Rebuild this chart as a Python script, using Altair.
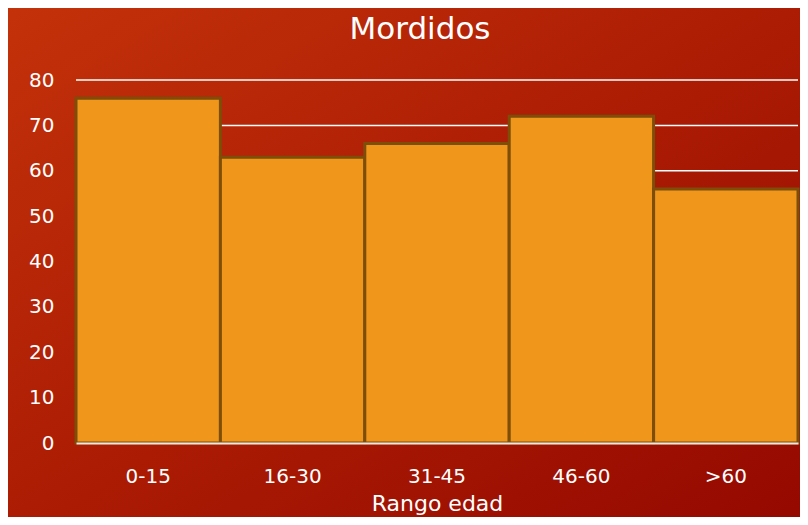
import altair as alt
import pandas as pd

categories = ["0-15", "16-30", "31-45", "46-60", ">60"]
values = [76, 63, 66, 72, 56]
grid_values = [10, 20, 30, 40, 50, 60, 70, 80]
title_text = ["Mordidos"]

W, H = 722, 363
PAD = {"left": 68, "top": 72, "right": 2, "bottom": 74}
FONT = "DejaVu Sans"

df = pd.DataFrame({"rango": categories, "mordidos": values})
gdf = pd.DataFrame({"v": grid_values})
bgdf = pd.DataFrame({"k": [0]})
tdf = pd.DataFrame({"t": title_text})

xenc = alt.X(
    "rango:N", sort=categories,
    scale=alt.Scale(paddingInner=0, paddingOuter=0),
    axis=alt.Axis(title="Rango edad", labelAngle=0, labelFontSize=20, labelColor="white",
                  labelFont=FONT, labelPadding=23, ticks=False, domain=True,
                  domainColor="#F4E6E0", domainWidth=2, grid=False, zindex=1,
                  titleFont=FONT, titleFontSize=22, titleColor="white",
                  titleFontWeight="normal", titleBaseline="alphabetic", titleY=67),
)
yscale = alt.Scale(domain=[0, 80])
yaxis = alt.Axis(title=None, values=[0, 10, 20, 30, 40, 50, 60, 70, 80],
                 labelFontSize=20, labelColor="white", labelFont=FONT,
                 labelPadding=22, ticks=False, domain=False, grid=False, zindex=1)

bg = alt.Chart(bgdf).mark_rect(
    clip=False,
    fill=alt.Gradient(gradient="linear", x1=0, y1=0, x2=1, y2=1,
                      stops=[alt.GradientStop(color="#C4320A", offset=0),
                             alt.GradientStop(color="#AC1C04", offset=0.5),
                             alt.GradientStop(color="#940800", offset=1)]),
).encode(
    x=alt.value(-PAD["left"] - 8), x2=alt.value(W + PAD["right"] + 8),
    y=alt.value(-PAD["top"] - 8), y2=alt.value(H + PAD["bottom"] + 8),
)

grid = alt.Chart(gdf).mark_rule(color="white", strokeWidth=1.5).encode(
    y=alt.Y("v:Q", scale=yscale, axis=yaxis),
    x=alt.value(0), x2=alt.value(W),
)

bars = alt.Chart(df).mark_bar(
    fill="#F0961A", stroke="#7C4E0A", strokeWidth=3
).encode(
    x=xenc,
    y=alt.Y("mordidos:Q", scale=yscale, axis=yaxis),
)

title = alt.Chart(tdf).mark_text(
    font=FONT, fontSize=31, color="white", align="center", baseline="alphabetic"
).encode(text="t:N", x=alt.value(W / 2 - 17), y=alt.value(-41))

chart = alt.layer(bg, grid, bars, title).properties(
    width=W, height=H,
    autosize=alt.AutoSizeParams(type="none"),
    padding=PAD,
    background="#AC1C04",
).configure_view(stroke=None)

chart.save("out.html", embed_options={"renderer": "svg", "actions": False})
